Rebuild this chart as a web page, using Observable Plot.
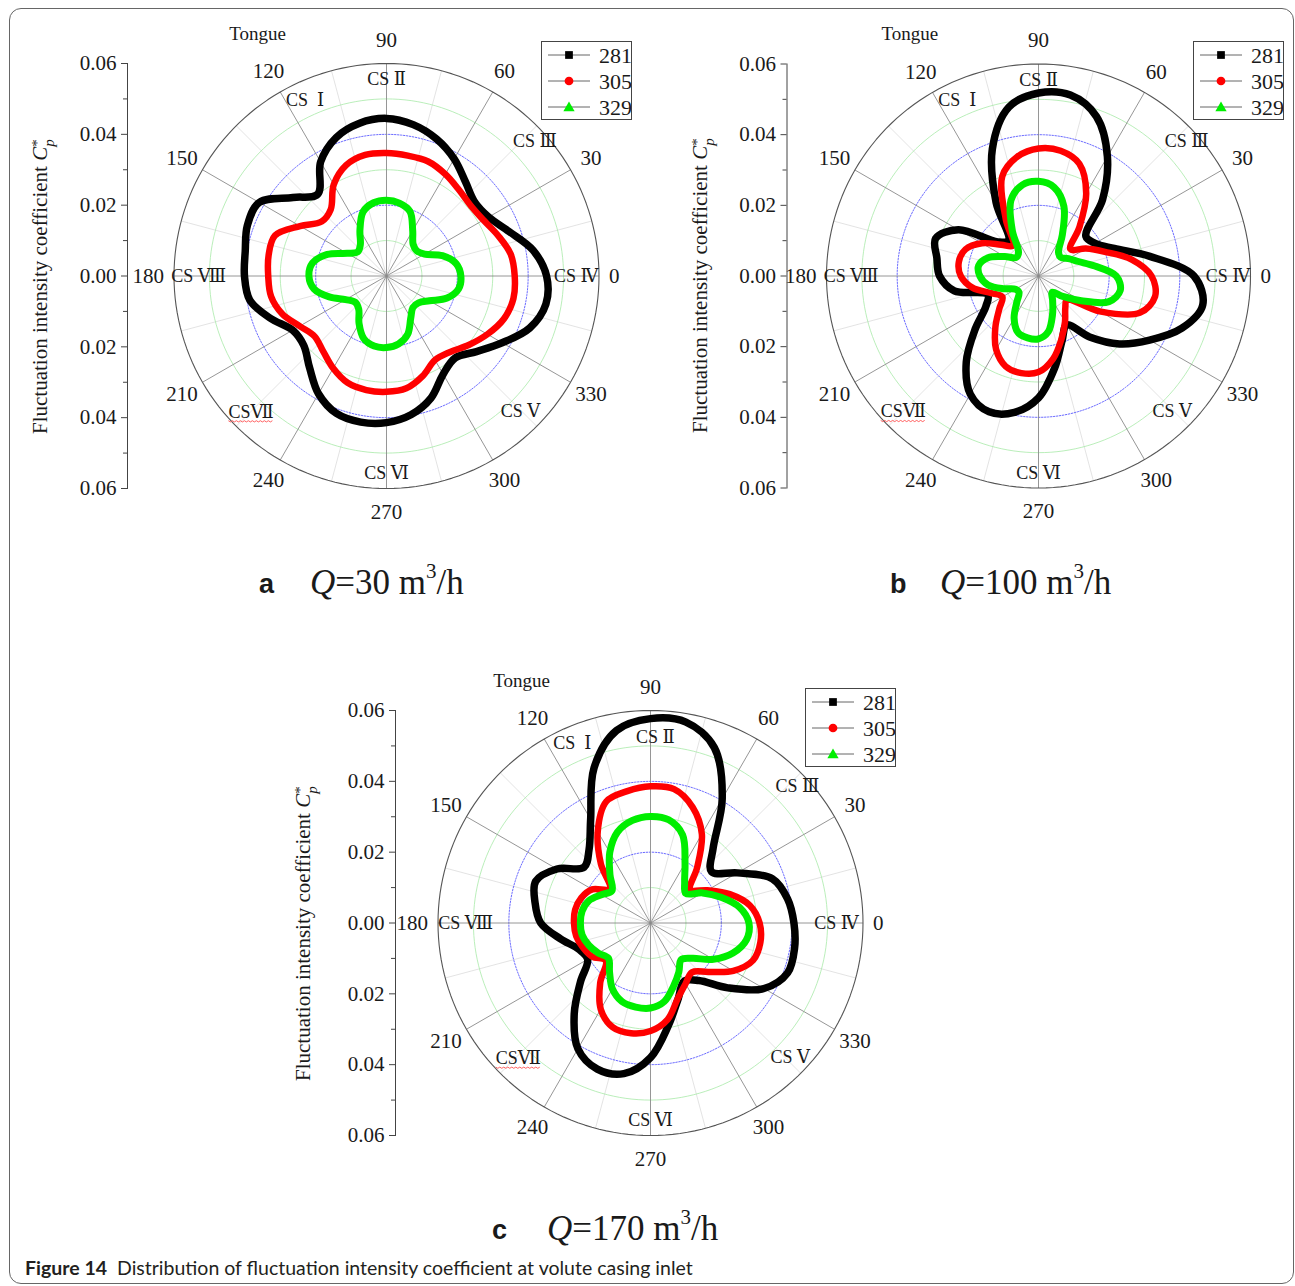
<!DOCTYPE html>
<html><head><meta charset="utf-8">
<script src="https://cdn.jsdelivr.net/npm/d3@7"></script>
<script src="https://cdn.jsdelivr.net/npm/@observablehq/plot@0.6"></script>
<style>
html,body{margin:0;padding:0;background:#fff;}
#fig{position:relative;width:1295px;height:1286px;overflow:hidden;background:#fff;font-family:"Liberation Serif","Times New Roman",serif;color:#1a1a1a;}
.border{position:absolute;left:9px;top:8px;width:1285px;height:1276px;box-sizing:border-box;border:1.3px solid #666;border-radius:12px;}
.ytitle{position:absolute;transform-origin:0 0;transform:rotate(-90deg);white-space:nowrap;font-size:21px;line-height:24px;}
.ss{display:inline-block;vertical-align:-0.45em;font-size:0.72em;line-height:0.8em;text-align:left;}
.ss span{display:block;}
.legend{position:absolute;width:91px;height:79px;box-sizing:border-box;border:1px solid #444;background:#fff;}
.letter{position:absolute;font-family:"Liberation Sans",Arial,sans-serif;font-weight:bold;font-size:27px;line-height:1;}
.qcap{position:absolute;font-size:35px;line-height:1;white-space:nowrap;}
.qcap sup{font-size:0.6em;vertical-align:0.75em;line-height:0;}
.figcap{position:absolute;left:25px;top:1256px;font-family:Lato,"Liberation Sans",sans-serif;font-size:19.5px;color:#231f20;white-space:nowrap;}
</style></head>
<body><div id="fig"><div class="border"></div></div>
<script>
// ---------------- data ----------------
const angles = d3.range(0, 360, 10); // degrees, 0..350
const seriesLabels = ["281", "305", "329"];
const seriesColors = ["#000000", "#ff0000", "#00ee00"];

// Q = 30 m3/h
const a281 = [0.0452,0.0420,0.0368,0.0333,0.0325,0.0347,0.0382,0.0412,0.0434,0.0445,0.0438,0.0416,0.0372,0.0302,0.0345,0.0415,0.0418,0.0405,0.0401,0.0392,0.0349,0.0306,0.0305,0.0338,0.0384,0.0413,0.0419,0.0414,0.0398,0.0367,0.0320,0.0302,0.0332,0.0377,0.0430,0.0457];
const a305 = [0.0362,0.0356,0.0335,0.0316,0.0310,0.0318,0.0332,0.0344,0.0345,0.0347,0.0347,0.0333,0.0298,0.0245,0.0239,0.0282,0.0335,0.0338,0.0334,0.0331,0.0313,0.0283,0.0265,0.0278,0.0301,0.0321,0.0327,0.0327,0.0322,0.0300,0.0274,0.0280,0.0303,0.0329,0.0353,0.0364];
const a329 = [0.0210,0.0200,0.0168,0.0124,0.0111,0.0117,0.0148,0.0194,0.0209,0.0214,0.0210,0.0193,0.0150,0.0115,0.0106,0.0128,0.0178,0.0212,0.0219,0.0208,0.0172,0.0133,0.0115,0.0122,0.0155,0.0188,0.0201,0.0202,0.0195,0.0175,0.0137,0.0116,0.0118,0.0140,0.0182,0.0207];
// Q = 100 m3/h
const b281 = [0.0440,0.0320,0.0228,0.0185,0.0175,0.0282,0.0390,0.0480,0.0520,0.0518,0.0485,0.0382,0.0240,0.0132,0.0150,0.0262,0.0310,0.0292,0.0280,0.0242,0.0153,0.0172,0.0234,0.0318,0.0386,0.0409,0.0392,0.0345,0.0264,0.0195,0.0160,0.0225,0.0299,0.0363,0.0432,0.0472];
const b305 = [0.0320,0.0268,0.0200,0.0155,0.0118,0.0180,0.0270,0.0338,0.0360,0.0361,0.0343,0.0300,0.0185,0.0112,0.0138,0.0185,0.0220,0.0229,0.0220,0.0190,0.0142,0.0118,0.0145,0.0190,0.0240,0.0272,0.0279,0.0272,0.0238,0.0190,0.0150,0.0118,0.0105,0.0200,0.0305,0.0335];
const b329 = [0.0220,0.0162,0.0120,0.0098,0.0082,0.0088,0.0135,0.0210,0.0255,0.0268,0.0262,0.0228,0.0148,0.0088,0.0082,0.0110,0.0152,0.0172,0.0166,0.0145,0.0105,0.0075,0.0072,0.0095,0.0138,0.0170,0.0178,0.0178,0.0160,0.0116,0.0080,0.0060,0.0090,0.0140,0.0212,0.0235];
// Q = 170 m3/h
const c281 = [0.0405,0.0393,0.0366,0.0283,0.0225,0.0275,0.0405,0.0527,0.0576,0.0577,0.0552,0.0466,0.0338,0.0270,0.0245,0.0305,0.0345,0.0331,0.0310,0.0258,0.0216,0.0205,0.0258,0.0335,0.0410,0.0439,0.0432,0.0380,0.0293,0.0228,0.0190,0.0212,0.0285,0.0370,0.0412,0.0413];
const c305 = [0.0308,0.0285,0.0238,0.0185,0.0147,0.0205,0.0290,0.0348,0.0384,0.0386,0.0378,0.0365,0.0298,0.0218,0.0150,0.0190,0.0208,0.0216,0.0216,0.0213,0.0203,0.0190,0.0165,0.0221,0.0281,0.0313,0.0316,0.0305,0.0277,0.0226,0.0198,0.0182,0.0215,0.0270,0.0308,0.0315];
const c329 = [0.0278,0.0255,0.0212,0.0170,0.0130,0.0150,0.0195,0.0265,0.0296,0.0301,0.0294,0.0273,0.0230,0.0178,0.0142,0.0160,0.0185,0.0196,0.0198,0.0196,0.0185,0.0170,0.0155,0.0180,0.0215,0.0236,0.0241,0.0240,0.0225,0.0190,0.0160,0.0135,0.0155,0.0205,0.0248,0.0275];

// axis ticks and labels
const radialTicks = [-0.06, -0.04, -0.02, 0, 0.02, 0.04, 0.06];
const radialMinor = [-0.05, -0.03, -0.01, 0.01, 0.03, 0.05];
const gridRadii = [0.01, 0.02, 0.03, 0.04, 0.05, 0.06];
const angleTicks = d3.range(0, 360, 30);
const csLabels = ["CS\u00a0\u00a0Ⅰ", "CS Ⅱ", "CS Ⅲ", "CS Ⅳ", "CS Ⅴ", "CS Ⅵ", "CSⅦ", "CS Ⅷ"];
const csAngles = [114.8, 90, 42.2, 0, 314.7, 270, 225.1, 180];
const csRadii = [0.0548, 0.0555, 0.0566, 0.0536, 0.0538, 0.0558, 0.0542, 0.0530];
const csAnglesC = [113.5, 88.5, 42.9, 0, 316.1, 270, 225.7, 180];
const csRadiiC = [0.0553, 0.0524, 0.0566, 0.0525, 0.0548, 0.0558, 0.0534, 0.0522];
const tongueLabel = "Tongue", tongueAngle = 118, tongueRadius = 0.0775;
const flowRates = ["30", "100", "170"];
const panelLetters = ["a", "b", "c"];

// ---------------- layout ----------------
const panels = [
  {cx: 386, cy: 275.5, R: 212.5, axisX: 127, titleX: 40, letterX: 259, qX: 310, base: 594, csA: csAngles, csR: csRadii, values: [a281, a305, a329]},
  {cx: 1037.5, cy: 275, R: 212, axisX: 786, titleX: 700, letterX: 890, qX: 940, base: 594, csA: csAngles, csR: csRadii, values: [b281, b305, b329]},
  {cx: 650, cy: 922.5, R: 212.5, axisX: 395, titleX: 303, letterX: 492, qX: 547, base: 1240, csA: csAnglesC, csR: csRadiiC, values: [c281, c305, c329]}
];

const deg = Math.PI / 180;
const PX = (r, a) => r * Math.cos(a * deg);
const PY = (r, a) => r * Math.sin(a * deg);
const fig = document.getElementById("fig");
const serif = '"Liberation Serif","Times New Roman","DejaVu Serif","Noto Sans CJK SC",serif';

panels.forEach((p, k) => {
  const W = 580, H = 510, ox = 326, oy = 255.5;
  const left = p.cx - ox, top = p.cy - oy;
  const circ = gridRadii.flatMap(r => d3.range(0, 361, 2).map(a => ({r, a})));
  const rows = vals => angles.map((a, i) => ({a, r: vals[i]}));
  const polarLine = (vals, color, w) => Plot.line(rows(vals), {
    x: d => PX(d.r, d.a), y: d => PY(d.r, d.a),
    curve: "catmull-rom-closed", stroke: color, strokeWidth: w, strokeLinejoin: "round"
  });
  const svg = Plot.plot({
    width: W, height: H,
    marginLeft: p.axisX - left, marginRight: 10,
    marginTop: oy - p.R, marginBottom: H - (oy + p.R),
    x: {domain: [-0.06, 0.06], range: [ox - p.R, ox + p.R], axis: null},
    y: {domain: [-0.06, 0.06], range: [oy + p.R, oy - p.R]},
    style: {fontFamily: serif, fontSize: "20px", color: "#1a1a1a", background: "transparent", overflow: "visible"},
    marks: [
      Plot.link(d3.range(15, 360, 30), {x1: () => 0, y1: () => 0, x2: a => PX(0.06, a), y2: a => PY(0.06, a), stroke: "#dcdcdc", strokeWidth: 0.8}),
      Plot.line(circ.filter(d => Math.round(d.r * 100) % 2 === 1), {x: d => PX(d.r, d.a), y: d => PY(d.r, d.a), z: "r", stroke: "#a8eaa8", strokeWidth: 0.8}),
      Plot.line(circ.filter(d => d.r < 0.055 && Math.round(d.r * 100) % 2 === 0), {x: d => PX(d.r, d.a), y: d => PY(d.r, d.a), z: "r", stroke: "#5a5aff", strokeWidth: 0.9, strokeDasharray: "1.5,1.5"}),
      Plot.link(angleTicks, {x1: () => 0, y1: () => 0, x2: a => PX(0.06, a), y2: a => PY(0.06, a), stroke: "#8a8a8a", strokeWidth: 0.9}),
      Plot.line(circ.filter(d => d.r > 0.055), {x: d => PX(d.r, d.a), y: d => PY(d.r, d.a), stroke: "#555", strokeWidth: 1.1}),
      polarLine(p.values[0], seriesColors[0], 7.5),
      polarLine(p.values[1], seriesColors[1], 6.5),
      polarLine(p.values[2], seriesColors[2], 7),
      Plot.text(d3.range(csLabels.length), {x: i => PX(p.csR[i], p.csA[i]), y: i => PY(p.csR[i], p.csA[i]), text: i => csLabels[i], fontSize: 18}),
      Plot.text(angleTicks.filter(a => a !== 0 && a !== 180), {x: a => PX(0.0667, a), y: a => PY(0.0667, a), text: a => String(a), fontSize: 21}),
      Plot.text([0], {x: a => PX(0.0628, a), y: a => PY(0.0628, a), text: a => String(a), fontSize: 21, textAnchor: "start"}),
      Plot.text([180], {x: a => PX(0.0628, a), y: a => PY(0.0628, a), text: a => String(a), fontSize: 21, textAnchor: "end"}),
      Plot.text([tongueLabel], {x: () => PX(tongueRadius, tongueAngle), y: () => PY(tongueRadius, tongueAngle), text: d => d, fontSize: 19}),
      Plot.axisY({ticks: radialTicks, tickFormat: d => Math.abs(d).toFixed(2), tickSize: 6, tickPadding: 5, fontSize: 21, label: null, anchor: "left", stroke: "#444"}),
      Plot.axisY({ticks: radialMinor, tickFormat: () => "", tickSize: 4, label: null, anchor: "left", stroke: "#444"}),
      Plot.frame({anchor: "left", stroke: "#444", strokeWidth: 1})
    ]
  });
  svg.style.position = "absolute";
  svg.style.left = left + "px";
  svg.style.top = top + "px";
  fig.appendChild(svg);
  // red wavy (spell-check style) underline under "CSⅦ"
  d3.select(svg).selectAll("text").filter(function() { return this.textContent === "CSⅦ"; }).each(function() {
    const bb = this.getBBox();
    const y0 = bb.y + bb.height - 1;
    const pts = d3.range(bb.x, bb.x + bb.width + 0.1, 2).map((x, i) => [x, y0 + (i % 2 ? 1.2 : 0)]);
    const path = document.createElementNS("http://www.w3.org/2000/svg", "path");
    path.setAttribute("d", d3.line()(pts));
    path.setAttribute("fill", "none");
    path.setAttribute("stroke", "#ff5050");
    path.setAttribute("stroke-width", "0.9");
    if (this.getAttribute("transform")) path.setAttribute("transform", this.getAttribute("transform"));
    this.parentNode.appendChild(path);
  });

  // legend
  const lg = document.createElement("div");
  lg.className = "legend";
  lg.style.left = (p.cx + 155) + "px";
  lg.style.top = (p.cy - 234.5) + "px";
  const ls = d3.create("svg").attr("width", 89).attr("height", 77).style("position", "absolute").style("left", "0").style("top", "0");
  const shapes = [d3.symbolSquare, d3.symbolCircle, d3.symbolTriangle];
  seriesLabels.forEach((s, i) => {
    const y = 13 + i * 26;
    ls.append("line").attr("x1", 6).attr("x2", 48).attr("y1", y).attr("y2", y).attr("stroke", "#666").attr("stroke-width", 1);
    ls.append("path").attr("d", d3.symbol(shapes[i], i === 2 ? 55 : 60)()).attr("transform", `translate(27,${y + (i === 2 ? 1 : 0)})`).attr("fill", seriesColors[i]);
    ls.append("text").attr("x", 57).attr("y", y + 7.5).attr("font-family", serif).attr("font-size", 22).attr("fill", "#1a1a1a").text(s);
  });
  lg.appendChild(ls.node());
  fig.appendChild(lg);

  // y-axis title
  const t = document.createElement("div");
  t.className = "ytitle";
  t.style.left = (p.titleX - 12) + "px";
  t.style.top = (p.cy + 158) + "px";
  t.innerHTML = 'Fluctuation intensity coefficient <i>C</i><span class="ss"><span>*</span><span><i>p</i></span></span>';
  fig.appendChild(t);

  // panel caption
  const L = document.createElement("div");
  L.className = "letter";
  L.style.left = p.letterX + "px";
  L.style.top = (p.base - 23) + "px";
  L.textContent = panelLetters[k];
  fig.appendChild(L);
  const q = document.createElement("div");
  q.className = "qcap";
  q.style.left = p.qX + "px";
  q.style.top = (p.base - 29) + "px";
  q.innerHTML = `<i>Q</i>=${flowRates[k]} m<sup>3</sup>/h`;
  fig.appendChild(q);
});

const cap = document.createElement("div");
cap.className = "figcap";
cap.innerHTML = '<b>Figure 14</b>&nbsp; Distribution of fluctuation intensity coefficient at volute casing inlet';
fig.appendChild(cap);
</script>
</body></html>
